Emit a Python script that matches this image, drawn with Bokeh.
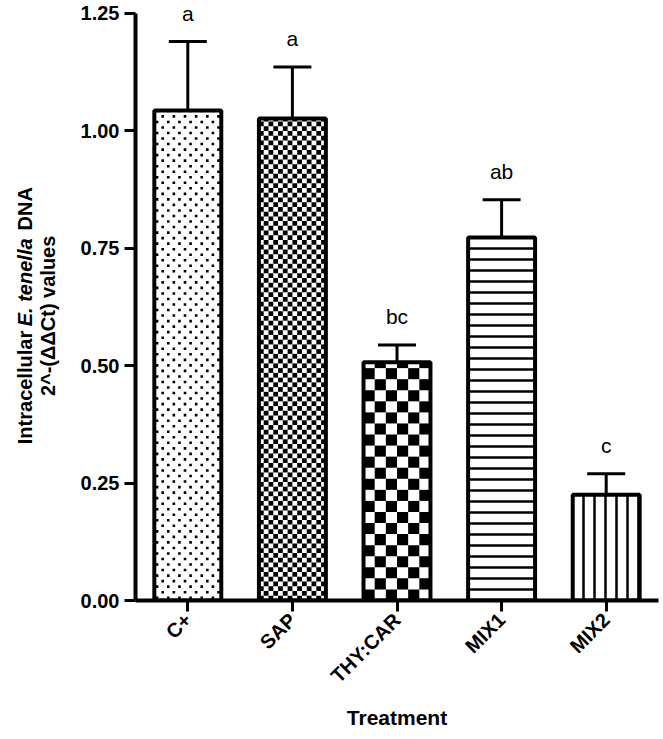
import math
from bokeh.plotting import figure
from bokeh.layouts import row
from bokeh.models import (ColumnDataSource, FactorRange, Range1d, FixedTicker,
                          NumeralTickFormatter, Whisker, TeeHead, Label)
from bokeh.core.properties import value
from bokeh.embed import file_html
from bokeh.resources import INLINE

# ---- data ----
treatments = ["C+", "SAP", "THY:CAR", "MIX1", "MIX2"]
means = [1.043, 1.026, 0.507, 0.773, 0.225]
sems = [0.147, 0.110, 0.037, 0.080, 0.045]
letters = ["a", "a", "bc", "ab", "c"]
y_ticks = [0.0, 0.25, 0.5, 0.75, 1.0, 1.25]
y_max = 1.25

# ---- styles ----
FONT = "Liberation Sans"
TITLE_W = 60
W, H = 600, 731
BL, BR, BT, BB = 75, 2, 0, 126
TOP_GAP = 13                        # pixels above the 1.25 tick kept inside the frame
FRAME_W = W - BL - BR
FRAME_H = H - BT - BB
BAR_W = 0.64
# fill style per bar: "dots", checker with n columns, or a built-in hatch
fills = [("dots", 6), ("check", 14), ("check", 6), ("hatch", "horizontal_line"), ("hatch", "vertical_line")]

px_x = FRAME_W / len(treatments)            # pixels per category
px_y = (FRAME_H - TOP_GAP) / y_max          # pixels per unit
y_end = FRAME_H / px_y

upper = [m + s for m, s in zip(means, sems)]
source = ColumnDataSource(dict(cat=treatments, mean=means, upper=upper, letter=letters,
                               hatch=[f[1] if f[0] == "hatch" else " " for f in fills]))

p = figure(
    x_range=FactorRange(*treatments, range_padding=0),
    y_range=Range1d(0, y_end),
    width=W, height=H,
    min_border_left=BL, min_border_right=BR, min_border_top=BT, min_border_bottom=BB,
    output_backend="svg", toolbar_location=None, tools="",
)
p.outline_line_color = None
p.xgrid.grid_line_color = None
p.ygrid.grid_line_color = None

# white bar bodies (with built-in hatch where used)
p.vbar(x="cat", top="mean", bottom=0, width=BAR_W, source=source,
       fill_color="white", line_color=None,
       hatch_pattern="hatch", hatch_color="black", hatch_scale=11, hatch_weight=2.5)

# pattern marks computed from each bar's value
dot_x, dot_y = [], []
ql, qr, qb, qt = [], [], [], []
for i, (m, f) in enumerate(zip(means, fills)):
    left = i + 0.5 - BAR_W / 2
    if f[0] == "dots":
        n = f[1]
        cw = BAR_W / n
        rh = (cw * px_x / 2) / px_y
        k = 0
        while (k + 0.5) * rh < m:
            off = 0.25 if k % 2 == 0 else 0.75
            for j in range(n):
                dot_x.append(left + (j + off) * cw)
                dot_y.append((k + 0.5) * rh)
            k += 1
    elif f[0] == "check":
        n = f[1]
        cw = BAR_W / n
        ch = (cw * px_x) / px_y
        k = 0
        while k * ch < m:
            for j in range(n):
                if (j + k) % 2 == 0:
                    ql.append(left + j * cw)
                    qr.append(left + (j + 1) * cw)
                    qb.append(k * ch)
                    qt.append(min((k + 1) * ch, m))
            k += 1

p.scatter(x=dot_x, y=dot_y, marker="square", size=2.6, fill_color="black", line_color=None)
p.quad(left=ql, right=qr, bottom=qb, top=qt, fill_color="black", line_color=None)

# bar outlines
p.vbar(x="cat", top="mean", bottom=0, width=BAR_W, source=source,
       fill_color=None, line_color="black", line_width=4)

whisker = Whisker(base="cat", lower="mean", upper="upper", source=source,
                  dimension="height", line_color="black", line_width=3,
                  upper_head=TeeHead(size=38, line_width=3, line_color="black"),
                  lower_head=None)
p.add_layout(whisker)

p.text(x="cat", y="upper", text="letter", source=source,
       text_font=value(FONT), text_font_size="21px", text_color="black",
       text_align="center", text_baseline="alphabetic", y_offset=-28)

# axes
for ax in (p.xaxis[0], p.yaxis[0]):
    ax.axis_line_width = 4
    ax.axis_line_color = "black"
    ax.major_tick_line_width = 3
    ax.major_tick_line_color = "black"
    ax.major_tick_out = 11
    ax.major_tick_in = 0
    ax.minor_tick_line_color = None
    ax.major_label_text_font = FONT
    ax.major_label_text_font_style = "bold"
    ax.major_label_text_color = "black"

p.yaxis.ticker = FixedTicker(ticks=y_ticks)
p.yaxis.bounds = (0, y_max)
p.yaxis.formatter = NumeralTickFormatter(format="0.00")
p.yaxis.major_label_standoff = 5
p.yaxis.major_label_text_font_size = "20px"

p.xaxis.major_label_orientation = math.pi / 4
p.xaxis.major_label_standoff = 5
p.xaxis.major_label_text_font_size = "20px"
p.xaxis.axis_label = "Treatment"
p.xaxis.axis_label_text_font = FONT
p.xaxis.axis_label_text_font_style = "bold"
p.xaxis.axis_label_text_font_size = "21px"
p.xaxis.axis_label_text_color = "black"
p.xaxis.axis_label_standoff = 8

# ---- y-axis title in a narrow companion figure (two lines, italic species name) ----
# its frame has the same vertical extent as the main frame; 1 data unit = 1 pixel
t = figure(width=TITLE_W, height=H, x_range=Range1d(0, TITLE_W), y_range=Range1d(0, FRAME_H),
           min_border_left=0, min_border_right=0, min_border_top=BT, min_border_bottom=BB,
           x_axis_location=None, y_axis_location=None,
           output_backend="svg", toolbar_location=None, tools="")
t.outline_line_color = None
t.grid.visible = False
t.scatter(x=[0], y=[0], size=0, fill_alpha=0, line_alpha=0)

fs = 20
w_intra = 5.669 * fs
w_space = 0.278 * fs
w_spec = 4.55 * fs
w_dna = 2.166 * fs
total = w_intra + w_spec + w_dna + 2 * w_space
mid = FRAME_H - (318 - BT)
y0 = mid - total / 2
common = dict(angle=math.pi / 2, text_align="left", text_baseline="middle",
              text_font=FONT, text_font_size=f"{fs}px", text_color="black")
t.add_layout(Label(x=24, y=y0, text="Intracellular", text_font_style="bold", **common))
t.add_layout(Label(x=24, y=y0 + w_intra + w_space, text="E. tenella",
                   text_font_style="bold italic", **common))
t.add_layout(Label(x=24, y=y0 + w_intra + w_spec + 2 * w_space, text="DNA",
                   text_font_style="bold", **common))
common2 = dict(common)
common2["text_align"] = "center"
t.add_layout(Label(x=47, y=mid, text="2^-(ΔΔCt) values", text_font_style="bold", **common2))

layout = row(t, p)
open("out.html", "w").write(file_html(layout, INLINE))
